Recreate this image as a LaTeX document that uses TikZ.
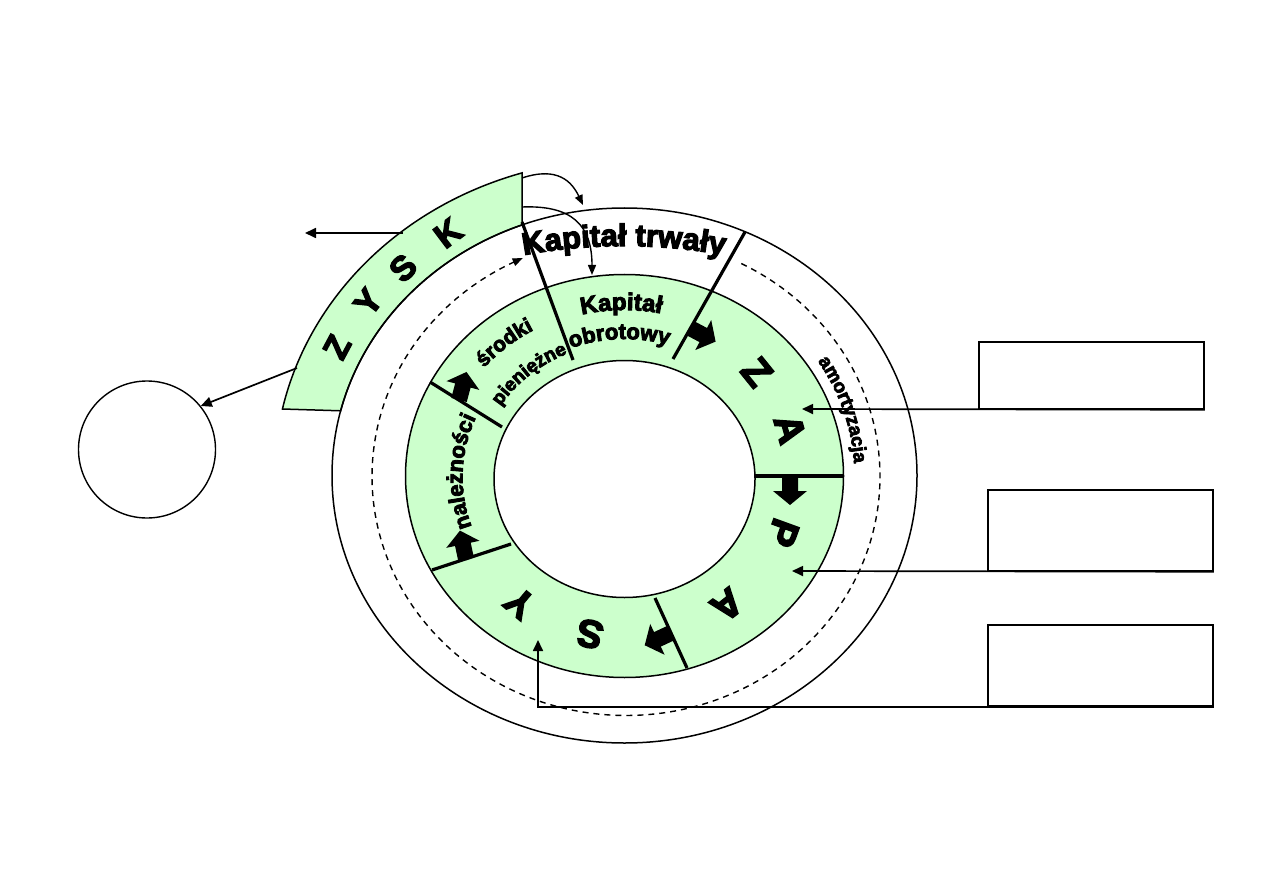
\documentclass[tikz,border=0pt]{standalone}
\usepackage{fontspec}
\usetikzlibrary{arrows.meta,decorations.text}
\newfontfamily\heavy{Liberation Sans}[BoldFeatures={FakeBold=4}]
\definecolor{ringgreen}{RGB}{204,255,204}
\tikzset{
  ringline/.style={line width=1.5pt},
  divider/.style={line width=3.2pt},
  conn/.style={line width=1.7pt,-{Triangle[length=11pt,width=10pt]}},
  thinconn/.style={line width=1.4pt,-{Triangle[length=10pt,width=8pt]}},
  box/.style={draw,line width=1.5pt,minimum width=225pt,inner sep=0pt},
  bigletter/.style={font=\heavy\bfseries\fontsize{39}{39}\selectfont,inner sep=0pt},
  zletter/.style={font=\heavy\bfseries\fontsize{34}{34}\selectfont,inner sep=0pt},
  blockarrow/.pic={\fill (0,-8) -- (15,-8) -- (15,-17) -- (29,0) -- (15,17) -- (15,8) -- (0,8) -- cycle;}
}
\begin{document}
\begin{tikzpicture}[x=1pt,y=-1pt]
\useasboundingbox (0,0) rectangle (1263,893);
\fill[white] (0,0) rectangle (1263,893);

% ZYSK band
\filldraw[fill=ringgreen, ringline]
  plot[domain=-107:-167.8, samples=80, variable=\t] ({624.5+350*cos(\t)},{476+317*sin(\t)})
  -- plot[domain=-166:-110.5, samples=80, variable=\t] ({624.5+292.5*cos(\t)},{475.5+267.5*sin(\t)})
  -- cycle;
% outer circle
\draw[ringline] (624.5,475.5) ellipse [x radius=292.5pt, y radius=267.5pt];
% green ring
\fill[ringgreen, even odd rule] (624.5,476) ellipse [x radius=219pt, y radius=201.5pt]
   (624.5,479) ellipse [x radius=130.5pt, y radius=118.5pt];
\draw[ringline] (624.5,476) ellipse [x radius=219pt, y radius=201.5pt];
\draw[ringline] (624.5,479) ellipse [x radius=130.5pt, y radius=118.5pt];

% dashed cycle
\draw[line width=1.4pt, dash pattern=on 6pt off 5pt, -{Triangle[length=10pt,width=8pt]}]
  plot[domain=-63:246, samples=240, variable=\t] ({626+254*cos(\t)},{476.5+239*sin(\t)});

% dividers
\draw[divider] (522,222) -- (573,360);
\draw[divider] (745,232) -- (673,359);
\draw[divider] (755,476) -- (843,476);
\draw[divider] (655,598) -- (687,668);
\draw[divider] (432,570) -- (511,544);
\draw[divider] (430,382) -- (502,427);

% block arrows
\pic[rotate=-28] at (690,328) {blockarrow};
\pic[rotate=-90] at (790,476) {blockarrow};
\pic[rotate=-155] at (671,633) {blockarrow};
\pic[rotate=102] at (466,559) {blockarrow};
\pic[rotate=75] at (459,400) {blockarrow};

% ZAPASY
\node[bigletter, rotate=-51] (lz) at (757,372) {Z};
\node[bigletter, rotate=-74] (la1) at (790,429) {A};
\node[bigletter, rotate=-110] (lp) at (783,533) {P};
\node[bigletter, rotate=-142] (la2) at (727,605) {A};
\node[bigletter, rotate=168] (ls) at (590,634) {S};
\node[bigletter, rotate=140] (ly) at (520,603) {Y};

% ZYSK
\node[zletter, rotate=62] (kz) at (337,347) {Z};
\node[zletter, rotate=53] (ky) at (368,302) {Y};
\node[zletter, rotate=45] (ks) at (403,268) {S};
\node[zletter, rotate=37] (kk) at (448,233) {K};

% curved texts
\path[decorate, decoration={text along path, text align=center,
  text={|\heavy\bfseries\fontsize{31}{31}\selectfont|Kapitał trwały}}]
  plot[domain=-103:-77, samples=80, variable=\t] ({624+557*cos(\t)},{803+557*sin(\t)});
\path[decorate, decoration={text along path, text align=center,
  text={|\heavy\bfseries\fontsize{24}{24}\selectfont|Kapitał}}]
  plot[domain=-121:-61, samples=80, variable=\t] ({624.5+182*cos(\t)},{477+167*sin(\t)});
\path[decorate, decoration={text along path, text align=center,
  text={|\heavy\bfseries\fontsize{22}{22}\selectfont|obrotowy}}]
  plot[domain=-127:-57, samples=80, variable=\t] ({624.5+150*cos(\t)},{477+138*sin(\t)});
\path[decorate, decoration={text along path, text align=center,
  text={|\heavy\bfseries\fontsize{21}{21}\selectfont|środki}}]
  plot[domain=-155:-105, samples=80, variable=\t] ({624.5+184*cos(\t)},{477+169*sin(\t)});
\path[decorate, decoration={text along path, text align=center,
  text={|\heavy\bfseries\fontsize{19}{19}\selectfont|pieniężne}}]
  plot[domain=-162:-100, samples=80, variable=\t] ({624.5+146*cos(\t)},{477+134*sin(\t)});
\path[decorate, decoration={text along path, text align=center,
  text={|\heavy\bfseries\fontsize{22}{22}\selectfont|należności}}]
  plot[domain=152:212, samples=80, variable=\t] ({624.5+162*cos(\t)},{477+149*sin(\t)});
\path[decorate, decoration={text along path, text align=center,
  text={|\heavy\bfseries\fontsize{19}{19}\selectfont|amortyzacja}}]
  plot[domain=-42:6, samples=80, variable=\t] ({624.5+230*cos(\t)},{476+212*sin(\t)});

% boxes and left circle
\node[box, minimum height=67pt] (b1) at (1091.5,375.5) {};
\node[box, minimum height=81pt] (b2) at (1100.5,530.5) {};
\node[box, minimum height=81pt] (b3) at (1100.5,665.5) {};
\node[draw, circle, line width=1.4pt, minimum size=137pt, inner sep=0pt] (zc) at (147,449.5) {};

% connectors
\coordinate (tA) at (802,409);
\coordinate (tP) at (792,571);
\coordinate (tS) at (538,640);
\draw[conn] (b1.south east) -- (tA);
\draw[conn] (b2.south east) -- (tP);
\draw[conn] (b3.south east) -| (tS);

\coordinate (zr1) at (522,178);
\coordinate (zr2) at (522,207);
\coordinate (kt) at (583,205);
\coordinate (ko) at (592,275);
\draw[thinconn] (zr1) .. controls (558,166) and (572,182) .. (kt);
\draw[thinconn] (zr2) .. controls (572,205) and (592,225) .. (ko);

\coordinate (zl) at (403,233);
\coordinate (zlt) at (305,233);
\draw[conn] (zl) -- (zlt);
\coordinate (zo) at (297,368);
\draw[conn] (zo) -- (zc.39);
\end{tikzpicture}
\end{document}
